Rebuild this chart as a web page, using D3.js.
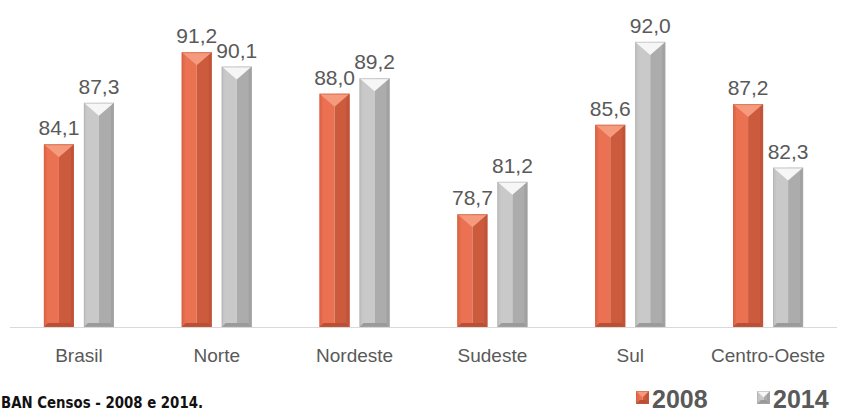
<!DOCTYPE html>
<html>
<head>
<meta charset="utf-8">
<script src="https://cdn.jsdelivr.net/npm/d3@7"></script>
<style>
  body { margin: 0; background: #fff; }
  svg { display: block; }
</style>
</head>
<body>
<div id="chart"></div>
<script>
// data
var regions = ["Brasil", "Norte", "Nordeste", "Sudeste", "Sul", "Centro-Oeste"];
var years = ["2008", "2014"];
var v2008 = [84.1, 91.2, 88.0, 78.7, 85.6, 87.2];
var v2014 = [87.3, 90.1, 89.2, 81.2, 92.0, 82.3];
var sourceText = "BAN Censos - 2008 e 2014.";

var width = 842, height = 412;
var baseY = 327;
var sans = "'Liberation Sans', Arial, sans-serif";

var svg = d3.select("#chart").append("svg")
    .attr("width", width)
    .attr("height", height);

var x = d3.scaleBand().domain(regions).range([10, 837]);
var xs = d3.scaleBand().domain(years).range([-35, 35]).paddingInner(0.25).paddingOuter(0);
var y = d3.scaleLinear().domain([70, 95]).range([baseY, 3]);

// colour sets for the bevelled bars
var pal = {
  "2008": { main: "#e4694b", light: "#ea7152", dark: "#cc5b3e", top: "#f59a7c", bottom: "#b94f35", edge: "#c65a3f" },
  "2014": { main: "#c4c4c4", light: "#c9c9c9", dark: "#acacac", top: "#f6f6f6", bottom: "#9a9a9a", edge: "#a8a8a8" }
};

var rows = [];
regions.forEach(function(r, i) {
  rows.push({ region: r, year: "2008", value: v2008[i] });
  rows.push({ region: r, year: "2014", value: v2014[i] });
});

// axis line
svg.append("line")
    .attr("x1", 10).attr("x2", 837)
    .attr("y1", baseY + 0.5).attr("y2", baseY + 0.5)
    .style("stroke", "#d9d9d9");

function drawBevel(g, x0, y0, w, h, c) {
  var b = Math.min(w / 2, 13);
  var mid = x0 + w / 2;
  // body: left light half, right dark half
  g.append("rect").attr("x", x0).attr("y", y0).attr("width", w / 2).attr("height", h).style("fill", c.light);
  g.append("rect").attr("x", mid).attr("y", y0).attr("width", w / 2).attr("height", h).style("fill", c.dark);
  // left & right bevel edges
  g.append("path").attr("d", "M" + x0 + "," + y0 + "L" + (x0 + 3) + "," + (y0 + 3) + "L" + (x0 + 3) + "," + (y0 + h - 3) + "L" + x0 + "," + (y0 + h) + "Z").style("fill", c.main);
  g.append("path").attr("d", "M" + (x0 + w) + "," + y0 + "L" + (x0 + w - 3) + "," + (y0 + 3) + "L" + (x0 + w - 3) + "," + (y0 + h - 3) + "L" + (x0 + w) + "," + (y0 + h) + "Z").style("fill", c.bottom).style("opacity", 0.6);
  // top triangle highlight
  g.append("path").attr("d", "M" + x0 + "," + y0 + "L" + (x0 + w) + "," + y0 + "L" + mid + "," + (y0 + b) + "Z").style("fill", c.top);
  // bottom bevel
  g.append("path").attr("d", "M" + x0 + "," + (y0 + h) + "L" + (x0 + w) + "," + (y0 + h) + "L" + (x0 + w - 4) + "," + (y0 + h - 4) + "L" + (x0 + 4) + "," + (y0 + h - 4) + "Z").style("fill", c.bottom);
  g.append("rect").attr("x", x0 + 0.5).attr("y", y0 + 0.5).attr("width", w - 1).attr("height", h - 1)
      .style("fill", "none").style("stroke", c.edge).style("stroke-opacity", 0.5);
}

var bars = svg.append("g");
rows.forEach(function(d) {
  var cx = x(d.region) + x.bandwidth() / 2 + xs(d.year);
  var w = xs.bandwidth();
  var top = y(d.value);
  drawBevel(bars.append("g"), cx, top, w, baseY - top, pal[d.year]);
  bars.append("text")
      .attr("x", cx + w / 2)
      .attr("y", top - 9)
      .attr("text-anchor", "middle")
      .style("font-family", sans)
      .style("font-size", "21px")
      .style("fill", "#595959")
      .text(d.value.toFixed(1).replace(".", ","));
});

// category labels
svg.append("g").selectAll("text")
    .data(regions)
  .enter().append("text")
    .attr("x", function(d) { return x(d) + x.bandwidth() / 2; })
    .attr("y", 362)
    .attr("text-anchor", "middle")
    .style("font-family", sans)
    .style("font-size", "19px")
    .style("fill", "#595959")
    .text(function(d) { return d; });

// source note
svg.append("text")
    .attr("x", 1)
    .attr("y", 408)
    .attr("textLength", 202)
    .attr("lengthAdjust", "spacingAndGlyphs")
    .style("font-family", "'DejaVu Sans', sans-serif")
    .style("font-weight", "bold")
    .style("font-size", "15px")
    .style("fill", "#111")
    .text(sourceText);

// legend
var legX = [636, 757];
years.forEach(function(yr, i) {
  var g = svg.append("g");
  drawBevel(g, legX[i], 391, 13, 13, pal[yr]);
  g.append("text")
      .attr("x", legX[i] + 16)
      .attr("y", 408)
      .style("font-family", sans)
      .style("font-weight", "bold")
      .style("font-size", "25px")
      .style("fill", "#595959")
      .text(yr);
});
</script>
</body>
</html>
